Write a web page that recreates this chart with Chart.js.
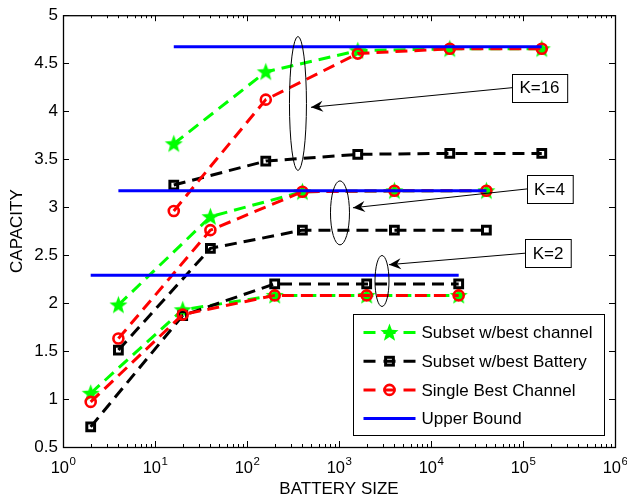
<!DOCTYPE html>
<html><head><meta charset="utf-8">
<script src="https://cdn.jsdelivr.net/npm/chart.js@4/dist/chart.umd.min.js"></script>
<style>html,body{margin:0;padding:0;background:#fff;}canvas{display:block;}</style>
</head><body>
<canvas id="c" width="627" height="498"></canvas>
<script>
// ---- data ----
const batteryK2  = [2, 20, 200, 2000, 20000];
const batteryK4  = [4, 40, 400, 4000, 40000];
const batteryK16 = [16, 160, 1600, 16000, 160000];

const bestChannelK2  = [1.06, 1.93, 2.08, 2.08, 2.08];
const bestChannelK4  = [1.98, 2.90, 3.16, 3.17, 3.17];
const bestChannelK16 = [3.66, 4.41, 4.63, 4.65, 4.65];

const bestBatteryK2  = [0.71, 1.87, 2.20, 2.20, 2.20];
const bestBatteryK4  = [1.51, 2.57, 2.76, 2.76, 2.76];
const bestBatteryK16 = [3.23, 3.48, 3.55, 3.56, 3.56];

const singleBestK2  = [0.97, 1.88, 2.08, 2.08, 2.08];
const singleBestK4  = [1.63, 2.76, 3.16, 3.17, 3.17];
const singleBestK16 = [2.96, 4.12, 4.60, 4.65, 4.65];

const upperBoundK2  = [2.29, 2.29];
const upperBoundK4  = [3.17, 3.17];
const upperBoundK16 = [4.67, 4.67];
const upperRangeK2  = [2, 20000];
const upperRangeK4  = [4, 40000];
const upperRangeK16 = [16, 160000];

const seriesNames = ['Subset w/best channel', 'Subset w/best Battery', 'Single Best Channel', 'Upper Bound'];
const groupLabels = ['K=16', 'K=4', 'K=2'];
const xDecadeExponents = [0, 1, 2, 3, 4, 5, 6];
const yTickValues = [0.5, 1, 1.5, 2, 2.5, 3, 3.5, 4, 4.5, 5];

// ---- annotation placement (data coords for anchors, px for ellipse radii) ----
const annot = [
  {label: groupLabels[0], cx: 358,  cy: 4.08, rx: 8.5, ry: 67,  tipX: 496,  tipY: 4.04, boxX: 151000, boxY: 4.245},
  {label: groupLabels[1], cx: 1025, cy: 2.94, rx: 9.5, ry: 32,  tipX: 1419, tipY: 2.993, boxX: 194000, boxY: 3.19},
  {label: groupLabels[2], cx: 2933, cy: 2.23, rx: 7,   ry: 25.5, tipX: 3494, tipY: 2.40, boxX: 187000, boxY: 2.52}
];

function makeStar(R, color) {
  const s = Math.ceil(R * 2 + 2);
  const c = document.createElement('canvas');
  c.width = s; c.height = s;
  const g = c.getContext('2d');
  const r = R * 0.42;
  g.beginPath();
  for (let i = 0; i < 10; i++) {
    const ang = -Math.PI / 2 + i * Math.PI / 5;
    const rr = (i % 2) ? r : R;
    g.lineTo(s / 2 + rr * Math.cos(ang), s / 2 + 0.6 + rr * Math.sin(ang));
  }
  g.closePath();
  g.fillStyle = color;
  g.fill();
  return c;
}
const starImg = makeStar(9.5, '#00ff00');

const DASH = [12, 7];
const styles = {
  green: {borderColor: '#00ff00', backgroundColor: 'transparent', borderWidth: 3, borderDash: DASH,
          pointStyle: starImg, pointRadius: 9, pointBorderWidth: 0},
  black: {borderColor: '#000000', backgroundColor: 'transparent', borderWidth: 3, borderDash: DASH,
          pointStyle: 'rect', pointRadius: 5.5, pointBorderWidth: 3, pointBorderColor: '#000', pointBackgroundColor: 'transparent'},
  red:   {borderColor: '#ff0000', backgroundColor: 'transparent', borderWidth: 3, borderDash: DASH,
          pointStyle: 'circle', pointRadius: 5, pointBorderWidth: 2.6, pointBorderColor: '#ff0000', pointBackgroundColor: 'transparent'},
  blue:  {borderColor: '#0000ff', backgroundColor: 'transparent', borderWidth: 3, pointRadius: 0}
};

function ds(label, xs, ys, style, order) {
  return Object.assign({label, data: xs.map((x, i) => ({x, y: ys[i]})), order, tension: 0, fill: false, clip: false}, style);
}

const datasets = [
  ds(seriesNames[0], batteryK2,  bestChannelK2,  styles.green, 4),
  ds(seriesNames[0], batteryK4,  bestChannelK4,  styles.green, 4),
  ds(seriesNames[0], batteryK16, bestChannelK16, styles.green, 4),
  ds(seriesNames[1], batteryK2,  bestBatteryK2,  styles.black, 3),
  ds(seriesNames[1], batteryK4,  bestBatteryK4,  styles.black, 3),
  ds(seriesNames[1], batteryK16, bestBatteryK16, styles.black, 3),
  ds(seriesNames[2], batteryK2,  singleBestK2,   styles.red, 2),
  ds(seriesNames[2], batteryK4,  singleBestK4,   styles.red, 2),
  ds(seriesNames[2], batteryK16, singleBestK16,  styles.red, 2),
  ds(seriesNames[3], upperRangeK2,  upperBoundK2,  styles.blue, 1),
  ds(seriesNames[3], upperRangeK4,  upperBoundK4,  styles.blue, 1),
  ds(seriesNames[3], upperRangeK16, upperBoundK16, styles.blue, 1)
];

const FONT = 'Arial, "Liberation Sans", Helvetica, sans-serif';

function arrow(ctx, x0, y0, x1, y1) {
  ctx.beginPath(); ctx.moveTo(x0, y0); ctx.lineTo(x1, y1); ctx.stroke();
  const ang = Math.atan2(y1 - y0, x1 - x0);
  const L = 12, W = 5.5, N = 8;
  const ca = Math.cos(ang), sa = Math.sin(ang);
  const p = (a, b) => [x1 - a * ca + b * sa, y1 - a * sa - b * ca];
  const b1 = p(L, W), b2 = p(L, -W), n = p(N, 0);
  ctx.beginPath();
  ctx.moveTo(x1, y1); ctx.lineTo(b1[0], b1[1]); ctx.lineTo(n[0], n[1]); ctx.lineTo(b2[0], b2[1]); ctx.closePath();
  ctx.fill();
}

const decorations = {
  id: 'decorations',
  afterDraw(chart) {
    const {ctx, chartArea: a, scales: {x, y}} = chart;
    ctx.save();
    ctx.strokeStyle = '#000'; ctx.fillStyle = '#000'; ctx.lineWidth = 1;
    ctx.setLineDash([]);
    // axes box
    ctx.lineWidth = 1.3;
    ctx.strokeRect(a.left + 0.5, a.top + 0.5, a.right - a.left, a.bottom - a.top);
    ctx.lineWidth = 1;
    // x ticks (major + minor) bottom and top
    ctx.beginPath();
    for (let k = 0; k < 6; k++) {
      for (let m = 1; m <= 9; m++) {
        const v = m * Math.pow(10, k);
        const px = Math.round(x.getPixelForValue(v)) + 0.5;
        const len = m === 1 ? 6 : 3;
        ctx.moveTo(px, a.bottom); ctx.lineTo(px, a.bottom - len);
        ctx.moveTo(px, a.top); ctx.lineTo(px, a.top + len);
      }
    }
    // y ticks left and right
    yTickValues.forEach(v => {
      const py = Math.round(y.getPixelForValue(v)) + 0.5;
      ctx.moveTo(a.left, py); ctx.lineTo(a.left + 6, py);
      ctx.moveTo(a.right, py); ctx.lineTo(a.right - 6, py);
    });
    ctx.stroke();
    // x tick labels 10^n
    ctx.textBaseline = 'alphabetic';
    xDecadeExponents.forEach(e => {
      const px = x.getPixelForValue(Math.pow(10, e));
      ctx.font = '16.5px ' + FONT;
      const w1 = ctx.measureText('10').width;
      ctx.font = '11.5px ' + FONT;
      const w2 = ctx.measureText(String(e)).width;
      const start = px - (w1 + w2) / 2;
      ctx.font = '16.5px ' + FONT;
      ctx.textAlign = 'left';
      ctx.fillText('10', start, a.bottom + 26);
      ctx.font = '11.5px ' + FONT;
      ctx.fillText(String(e), start + w1 + 0.5, a.bottom + 18);
    });
    // axis titles
    ctx.font = '17px ' + FONT;
    ctx.textAlign = 'center'; ctx.textBaseline = 'middle';
    ctx.fillText('BATTERY SIZE', (a.left + a.right) / 2, a.bottom + 42);
    ctx.save();
    ctx.translate(17, (a.top + a.bottom) / 2);
    ctx.rotate(-Math.PI / 2);
    ctx.fillText('CAPACITY', 0, 0);
    ctx.restore();

    // annotations
    ctx.lineWidth = 1;
    annot.forEach(an => {
      const cx = x.getPixelForValue(an.cx), cy = y.getPixelForValue(an.cy);
      ctx.beginPath();
      ctx.ellipse(cx, cy, an.rx, an.ry, 0, 0, Math.PI * 2);
      ctx.stroke();
      ctx.font = '17px ' + FONT;
      const tw = ctx.measureText(an.label).width;
      const bx = x.getPixelForValue(an.boxX), by = y.getPixelForValue(an.boxY);
      const bw = tw + 15, bh = 28;
      const left = Math.round(bx - bw / 2) + 0.5, top = Math.round(by - bh / 2) + 0.5;
      arrow(ctx, left, by, x.getPixelForValue(an.tipX), y.getPixelForValue(an.tipY));
      ctx.fillStyle = '#fff';
      ctx.fillRect(left, top, bw, bh);
      ctx.strokeRect(left, top, bw, bh);
      ctx.fillStyle = '#000';
      ctx.textAlign = 'center'; ctx.textBaseline = 'middle';
      ctx.fillText(an.label, bx, by + 1);
    });

    // legend
    const lw = 251, lh = 121;
    const lx = Math.round(a.right - 11 - lw) + 0.5, ly = Math.round(a.bottom - 12 - lh) + 0.5;
    ctx.fillStyle = '#fff';
    ctx.fillRect(lx, ly, lw, lh);
    ctx.strokeStyle = '#000'; ctx.lineWidth = 1;
    ctx.strokeRect(lx, ly, lw, lh);
    const rows = [styles.green, styles.black, styles.red, styles.blue];
    rows.forEach((st, i) => {
      const ry = ly + 18 + i * 28.7;
      const x0 = lx + 10, x1 = lx + 62, xm = (x0 + x1) / 2;
      ctx.strokeStyle = st.borderColor; ctx.lineWidth = 3;
      ctx.setLineDash(st.borderDash ? [12, 8] : []);
      ctx.beginPath(); ctx.moveTo(x0, ry); ctx.lineTo(x1, ry); ctx.stroke();
      ctx.setLineDash([]);
      if (st === styles.green) {
        ctx.drawImage(starImg, xm - starImg.width / 2, ry - starImg.height / 2);
      } else if (st === styles.black) {
        ctx.lineWidth = 3; ctx.strokeStyle = '#000';
        const s = 7.8;
        ctx.strokeRect(xm - s / 2, ry - s / 2, s, s);
      } else if (st === styles.red) {
        ctx.lineWidth = 2.6; ctx.strokeStyle = '#ff0000';
        ctx.beginPath(); ctx.arc(xm, ry, 5, 0, Math.PI * 2); ctx.stroke();
      }
      ctx.fillStyle = '#000';
      ctx.font = '17px ' + FONT;
      ctx.textAlign = 'left'; ctx.textBaseline = 'middle';
      ctx.fillText(seriesNames[i], lx + 68, ry + 1);
    });
    ctx.restore();
  }
};

new Chart(document.getElementById('c'), {
  type: 'line',
  data: {datasets},
  options: {
    responsive: false,
    animation: false,
    events: [],
    layout: {padding: {top: 12, right: 12, left: 0, bottom: 0}},
    plugins: {legend: {display: false}, tooltip: {enabled: false}},
    scales: {
      x: {
        type: 'logarithmic', min: 1, max: 1e6,
        grid: {display: false, drawTicks: false}, border: {display: false},
        ticks: {display: false},
        afterFit: s => { s.height = 51; }
      },
      y: {
        type: 'linear', min: 0.5, max: 5,
        grid: {display: false, drawTicks: false}, border: {display: false},
        afterFit: s => { s.width = 63; },
        ticks: {
          stepSize: 0.5, padding: 5, color: '#000',
          font: {size: 17, family: FONT},
          callback: v => String(Math.round(v * 10) / 10)
        }
      }
    }
  },
  plugins: [decorations]
});
</script>
</body></html>
